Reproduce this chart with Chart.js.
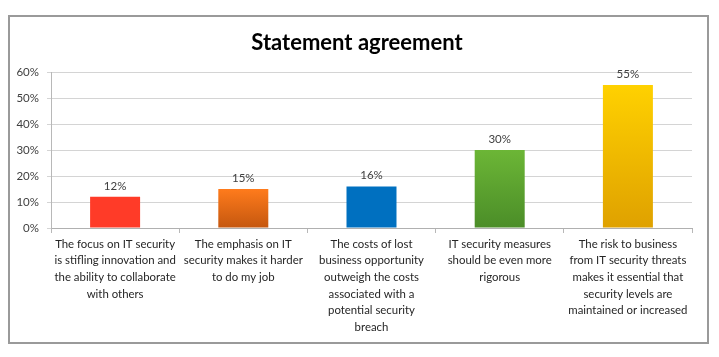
<!DOCTYPE html>
<html>
<head>
<meta charset="utf-8">
<script src="https://cdn.jsdelivr.net/npm/chart.js@4"></script>
<style>
  html, body { margin: 0; padding: 0; background: #fff; }
  #wrap { position: relative; width: 719px; height: 357px; }
  #frame { position: absolute; left: 8px; top: 15px; width: 697px; height: 325px; border: 2px solid #9a9a9a; pointer-events: none; }
  canvas { position: absolute; left: 0; top: 0; }
</style>
</head>
<body>
<div id="wrap">
  <canvas id="c" width="719" height="357"></canvas>
  <div id="frame"></div>
</div>
<script>
const categories = [
  ["The focus on IT security", "is stifling innovation and", "the ability to collaborate", "with others"],
  ["The emphasis on IT", "security makes it harder", "to do my job"],
  ["The costs of lost", "business opportunity", "outweigh the costs", "associated with a", "potential security", "breach"],
  ["IT security measures", "should be even more", "rigorous"],
  ["The risk to business", "from IT security threats", "makes it essential that", "security levels are", "maintained or increased"]
];
const values = [12, 15, 16, 30, 55];
const topColors = ["#FF3B28", "#FF7B1C", "#0070C0", "#6CB636", "#FFD100"];
const bottomColors = ["#FF3B28", "#C4570F", "#0070C0", "#4B8D28", "#DFA100"];
const yTicks = [0, 10, 20, 30, 40, 50, 60];

const valueLabels = {
  id: 'valueLabels',
  afterDatasetsDraw(chart) {
    const ctx = chart.ctx;
    const meta = chart.getDatasetMeta(0);
    ctx.save();
    ctx.font = '11.5px Lato';
    ctx.fillStyle = '#404040';
    ctx.textAlign = 'center';
    ctx.textBaseline = 'middle';
    meta.data.forEach((bar, i) => {
      ctx.fillText(values[i] + '%', bar.x, bar.y - 11);
    });
    ctx.restore();
  }
};

new Chart(document.getElementById('c'), {
  type: 'bar',
  data: {
    labels: categories,
    datasets: [{
      data: values,
      backgroundColor(context) {
        const chart = context.chart;
        const i = context.dataIndex;
        const y = chart.scales && chart.scales.y;
        if (!chart.chartArea || !y || i === undefined) return topColors[i] || '#888';
        const top = y.getPixelForValue(values[i]);
        const bottom = y.getPixelForValue(0);
        const g = chart.ctx.createLinearGradient(0, top, 0, bottom);
        g.addColorStop(0, topColors[i]);
        g.addColorStop(1, bottomColors[i]);
        return g;
      },
      borderWidth: 0,
      categoryPercentage: 1,
      barPercentage: 0.39
    }]
  },
  options: {
    responsive: false,
    animation: false,
    layout: { padding: { left: 0, right: 5, top: 0, bottom: 0 } },
    plugins: {
      legend: { display: false },
      tooltip: { enabled: false },
      title: {
        display: true,
        text: 'Statement agreement',
        color: '#000',
        font: { family: 'Lato', size: 22, weight: 'bold', lineHeight: 1.2 },
        padding: { top: 30, bottom: 15.6 }
      }
    },
    scales: {
      x: {
        afterFit(scale) { scale.height = 129; },
        grid: { drawOnChartArea: false, drawTicks: true, tickLength: 5, color: '#b8b8b8', offset: true },
        border: { color: '#b0b0b0' },
        ticks: {
          color: '#262626',
          font: { family: 'Lato', size: 11.4, lineHeight: 1.45 },
          padding: 3,
          maxRotation: 0,
          autoSkip: false
        }
      },
      y: {
        min: 0,
        max: 60,
        afterFit(scale) { scale.width = 51; },
        afterBuildTicks(scale) { scale.ticks = yTicks.map(v => ({ value: v })); },
        grid: { color: '#d4d4d4', tickLength: 4, drawTicks: true },
        border: { color: '#b8b8b8' },
        ticks: {
          stepSize: 10,
          color: '#404040',
          font: { family: 'Lato', size: 11.5 },
          padding: 8,
          callback: v => v + '%'
        }
      },
      yRight: {
        position: 'right',
        min: 0,
        max: 60,
        afterFit(scale) { scale.width = 22; },
        grid: { display: false, drawTicks: false },
        border: { display: false },
        ticks: { display: false }
      }
    }
  },
  plugins: [valueLabels]
});
</script>
</body>
</html>
